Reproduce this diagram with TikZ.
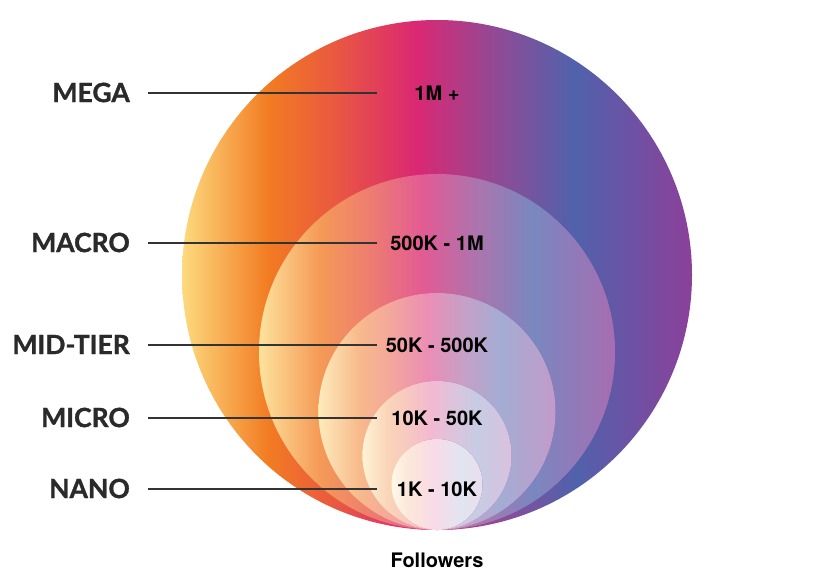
\documentclass[tikz,border=0pt]{standalone}
\usepackage{fontspec}
\newfontfamily\labfont{Lato}[BoldFeatures={FakeBold=1.2}]
\newfontfamily\valfont{TeX Gyre Heros}
\definecolor{c0}{HTML}{FDDA7E}
\definecolor{c1}{HTML}{F27B22}
\definecolor{c2}{HTML}{EA5840}
\definecolor{c3}{HTML}{DA2873}
\definecolor{c4}{HTML}{8F4B96}
\definecolor{c5}{HTML}{5062AC}
\definecolor{c6}{HTML}{8C409A}
\definecolor{labgray}{HTML}{2A2A2A}
\definecolor{linegray}{HTML}{333333}
\pgfdeclarehorizontalshading{insta}{100bp}{color(0bp)=(c0); color(25bp)=(c0); color(33.5bp)=(c1); color(40bp)=(c2); color(48bp)=(c3); color(56bp)=(c4); color(63.5bp)=(c5); color(75bp)=(c6); color(100bp)=(c6)}
\begin{document}
\begin{tikzpicture}[x=1pt,y=-1pt,
  tier/.style={font=\labfont\bfseries\fontsize{26.5}{26.5}\selectfont, text=labgray, anchor=east, inner sep=0pt},
  val/.style={font=\valfont\bfseries\fontsize{20}{20}\selectfont, text=black, inner sep=0pt},
  leader/.style={draw=linegray, line width=1.1pt},
  ring/.style={shading=insta}]
\useasboundingbox (0,0) rectangle (819,580);
% circles (all tangent at bottom point (437,530))
\path[ring] (437,275) circle (255);
\path[ring] (437,352) circle (178);
\fill[white, opacity=0.24] (437,352) circle (178);
\path[ring] (437,411.5) circle (118.5);
\fill[white, opacity=0.48] (437,411.5) circle (118.5);
\path[ring] (437,455.5) circle (74.5);
\fill[white, opacity=0.68] (437,455.5) circle (74.5);
\path[ring] (437,484.5) circle (45.5);
\fill[white, opacity=0.83] (437,484.5) circle (45.5);
% tier labels
\node[tier] (mega) at (130,92.5) {MEGA};
\node[tier] (macro) at (130,242.5) {MACRO};
\node[tier] (mid) at (130,344.5) {MID-TIER};
\node[tier] (micro) at (130,417.5) {MICRO};
\node[tier] (nano) at (130,488.5) {NANO};
% line ends
\coordinate (megaS) at (148,93);   \coordinate (megaE) at (377,93);
\coordinate (macroS) at (148,243); \coordinate (macroE) at (377,243);
\coordinate (midS) at (148,345);   \coordinate (midE) at (377,345);
\coordinate (microS) at (148,418); \coordinate (microE) at (377,418);
\coordinate (nanoS) at (148,489);  \coordinate (nanoE) at (377,489);
\draw[leader] (megaS) -- (megaE);
\draw[leader] (macroS) -- (macroE);
\draw[leader] (midS) -- (midE);
\draw[leader] (microS) -- (microE);
\draw[leader] (nanoS) -- (nanoE);
% values
\node[val] (vmega) at (437,93) {1M +};
\node[val] (vmacro) at (437,243) {500K - 1M};
\node[val] (vmid) at (437,345) {50K - 500K};
\node[val] (vmicro) at (437,418) {10K - 50K};
\node[val] (vnano) at (437,489) {1K - 10K};
\node[val] (foll) at (437,560) {Followers};
\end{tikzpicture}
\end{document}
